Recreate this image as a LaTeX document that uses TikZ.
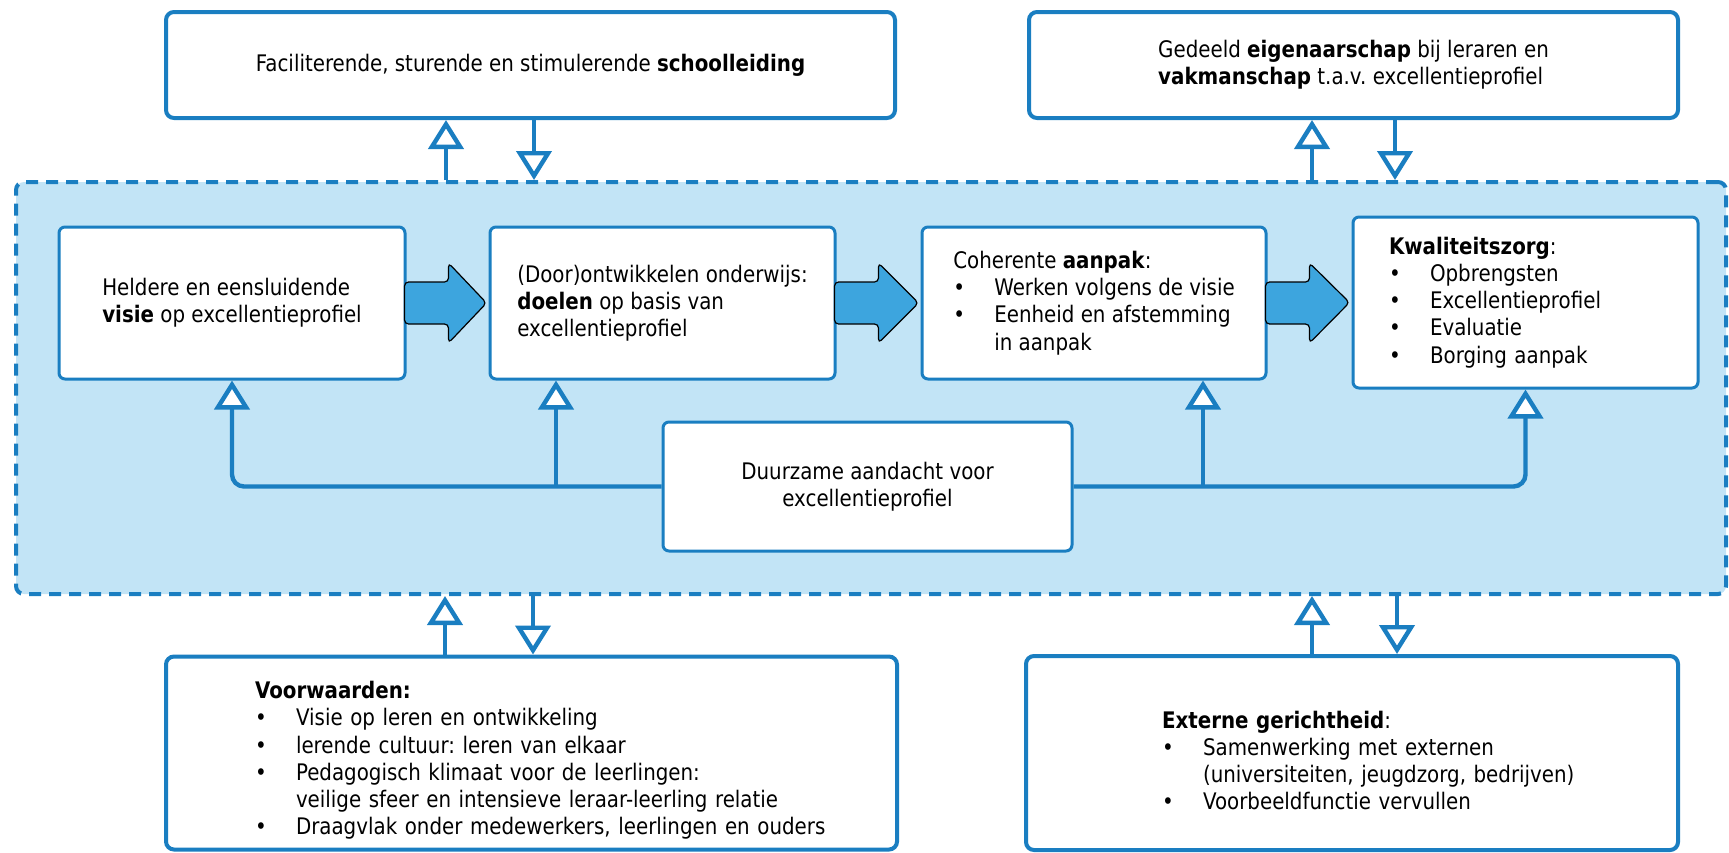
\documentclass[tikz,border=0pt]{standalone}
\usepackage{fontspec}
\setmainfont[FakeStretch=0.87]{DejaVu Sans}
\usepackage{tikz}
\usetikzlibrary{calc,arrows.meta}
\frenchspacing
\definecolor{boxblue}{HTML}{1A7EC1}
\definecolor{framefill}{HTML}{C2E4F6}
\definecolor{arrowfill}{HTML}{3DA5DE}
\tikzset{
	% Three node styles: outer boxes, inner boxes and the dashed frame
	outer box/.style={rectangle,draw=boxblue,line width=2pt,rounded corners=4pt,fill=white,align=left},
	inner box/.style={rectangle,draw=boxblue,line width=1.5pt,rounded corners=3pt,fill=white,align=left},
	frame box/.style={rectangle,draw=boxblue,line width=2pt,dash pattern=on 6pt off 4pt,rounded corners=4pt,fill=framefill},
	% Fat arrow between the boxes of the row
	block arrow/.style={fill=arrowfill,draw=black,line width=0.6pt,rounded corners=2pt}
}
% bullet with a fixed indent
\newcommand{\itm}[1]{\mbox{\makebox[20.5pt][l]{\textbullet}#1}}
\newcommand{\indt}{\hspace*{20.5pt}}
% first line a bit lower in the bottom boxes
\newcommand{\lowtop}{\rule{0pt}{16pt}}
% fat arrow from the east side of #1 to the west side of #2
\newcommand{\fatarrow}[2]{%
	\draw[block arrow] ($(#1.east)+(-2,-21)$) -- ($(#1.east)+(42,-21)$) -- ($(#1.east)+(42,-40)$)
		-- ($(#2.west)+(-2,0)$) -- ($(#1.east)+(42,40)$) -- ($(#1.east)+(42,21)$) -- ($(#1.east)+(-2,21)$) -- cycle;}

\begin{document}
\begin{tikzpicture}[x=0.5pt,y=-0.5pt,font=\fontsize{11.4pt}{13.6pt}\selectfont]
	% Connectors with open triangle heads
	\tikzstyle{link}=[draw=boxblue,line width=2.2pt,-{Triangle[fill=white,length=14.5pt,width=17.5pt]}]
	\useasboundingbox (0,0) rectangle (1729,852);
	
	% dashed frame round the middle row
	\node(frame)[frame box,minimum width=855pt,minimum height=206pt] at (871,388) {};
	
	% top boxes
	\node(top-1)[outer box,minimum width=364.5pt,minimum height=53pt] at (530.5,65)
		{Faciliterende, sturende en stimulerende \textbf{schoolleiding}};
	\node(top-2)[outer box,minimum width=324.5pt,minimum height=53pt] at (1353.5,65)
		{Gedeeld \textbf{eigenaarschap} bij leraren en\\\textbf{vakmanschap} t.a.v. excellentieprofiel};
	
	% the row inside the frame
	\node(row-1)[inner box,minimum width=173pt,minimum height=76pt] at (232,303)
		{Heldere en eensluidende\\\textbf{visie} op excellentieprofiel};
	\node(row-2)[inner box,minimum width=172.5pt,minimum height=76pt] at (662.5,303)
		{(Door)ontwikkelen onderwijs:\\\textbf{doelen} op basis van\\excellentieprofiel};
	\node(row-3)[inner box,minimum width=172pt,minimum height=76pt] at (1094,303)
		{Coherente \textbf{aanpak}:\\\itm{Werken volgens de visie}\\\itm{Eenheid en afstemming}\\\indt in aanpak};
	\node(row-4)[inner box,text width=136.5pt,inner xsep=18pt,minimum height=85.5pt] at (1525.5,302.5)
		{\textbf{Kwaliteitszorg}:\\\itm{Opbrengsten}\\\itm{Excellentieprofiel}\\\itm{Evaluatie}\\\itm{Borging aanpak}};
	\node(mid)[inner box,align=center,minimum width=204.5pt,minimum height=64.5pt] at (867.5,486.5)
		{Duurzame aandacht voor\\excellentieprofiel};
	
	% bottom boxes
	\node(bot-1)[outer box,text width=276.5pt,inner xsep=44.5pt,minimum height=96.5pt] at (531.5,753)
		{\lowtop\textbf{Voorwaarden:}\\\itm{Visie op leren en ontwikkeling}\\\itm{lerende cultuur: leren van elkaar}\\
		\itm{Pedagogisch klimaat voor de leerlingen:}\\\mbox{\indt veilige sfeer en intensieve leraar-leerling relatie}\\
		\itm{Draagvlak onder medewerkers, leerlingen en ouders}};
	\node(bot-2)[outer box,text width=190pt,inner xsep=68pt,minimum height=97pt] at (1352,753)
		{\lowtop\textbf{Externe gerichtheid}:\\\itm{Samenwerking met externen}\\\mbox{\indt(universiteiten, jeugdzorg, bedrijven)}\\
		\itm{Voorbeeldfunctie vervullen}};
	
	% fat arrows along the row
	\fatarrow{row-1}{row-2}
	\fatarrow{row-2}{row-3}
	\fatarrow{row-3}{row-4}
	
	% x positions of the vertical connectors
	\coordinate (up1) at (446,0);
	\coordinate (dn1) at (534,0);
	\coordinate (up2) at (1312,0);
	\coordinate (dn2) at (1395,0);
	\coordinate (up3) at (445,0);
	\coordinate (dn3) at (533,0);
	\coordinate (up4) at (1312,0);
	\coordinate (dn4) at (1397,0);
	\coordinate (br2) at (556,0);
	\coordinate (br3) at (1203,0);
	
	% frame <-> outer boxes
	\draw[link] (frame.north -| up1) -- (top-1.south -| up1);
	\draw[link] (top-1.south -| dn1) -- (frame.north -| dn1);
	\draw[link] (frame.north -| up2) -- (top-2.south -| up2);
	\draw[link] (top-2.south -| dn2) -- (frame.north -| dn2);
	\draw[link] (bot-1.north -| up3) -- (frame.south -| up3);
	\draw[link] (frame.south -| dn3) -- (bot-1.north -| dn3);
	\draw[link] (bot-2.north -| up4) -- (frame.south -| up4);
	\draw[link] (frame.south -| dn4) -- (bot-2.north -| dn4);
	
	% from the middle box up to the row
	\draw[link,rounded corners=6pt] (mid.west) -| (row-1.south);
	\draw[link] (mid.west -| br2) -- (row-2.south -| br2);
	\draw[link,rounded corners=6pt] (mid.east) -| (row-4.south);
	\draw[link] (mid.east -| br3) -- (row-3.south -| br3);
\end{tikzpicture}
\end{document}
